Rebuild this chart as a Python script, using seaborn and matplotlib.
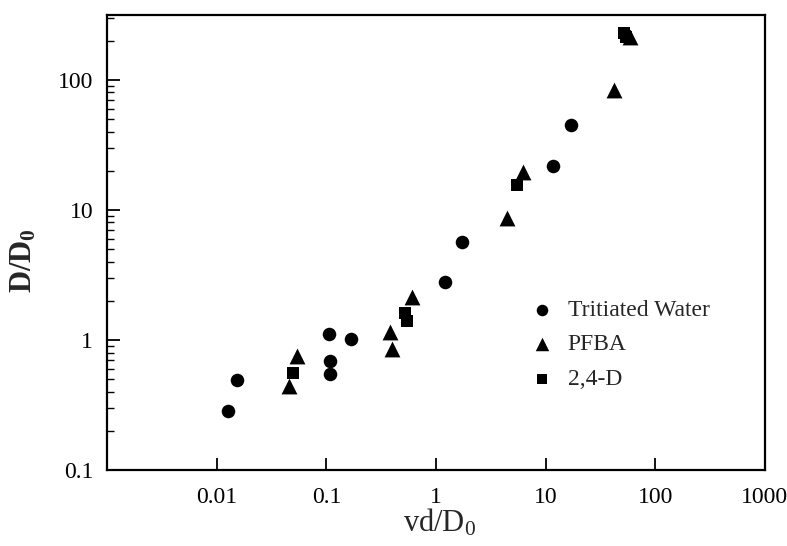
import matplotlib
matplotlib.use("Agg")
import matplotlib.pyplot as plt
import matplotlib.ticker as mticker
import seaborn as sns
import pandas as pd

# values (log-log)
water_x = [0.0128, 0.0152, 0.106, 0.108, 0.108, 0.168, 1.22, 1.73, 11.6, 17.1]
water_y = [0.286, 0.49, 1.11, 0.69, 0.55, 1.02, 2.78, 5.65, 21.9, 44.6]

pfba_x = [0.046, 0.054, 0.384, 0.394, 0.605, 4.42, 6.22, 41.8, 58.6]
pfba_y = [0.44, 0.75, 1.15, 0.86, 2.15, 8.6, 19.7, 82.8, 212]

d24_x = [0.0497, 0.52, 0.543, 5.48, 51.5, 53.5]
d24_y = [0.56, 1.62, 1.41, 15.4, 230, 214]

series = ["Tritiated Water", "PFBA", "2,4-D"]
x_ticks = [0.01, 0.1, 1, 10, 100, 1000]
x_ticklabels = ["0.01", "0.1", "1", "10", "100", "1000"]
y_ticks = [0.1, 1, 10, 100]
y_ticklabels = ["0.1", "1", "10", "100"]

df = pd.concat([
    pd.DataFrame({"x": water_x, "y": water_y, "series": series[0]}),
    pd.DataFrame({"x": pfba_x, "y": pfba_y, "series": series[1]}),
    pd.DataFrame({"x": d24_x, "y": d24_y, "series": series[2]}),
])

sns.set_style("white")
plt.rcParams["font.family"] = ["Liberation Serif", "DejaVu Serif"]
plt.rcParams["mathtext.fontset"] = "custom"
plt.rcParams["mathtext.rm"] = "Liberation Serif"
plt.rcParams["mathtext.it"] = "Liberation Serif:italic"
plt.rcParams["mathtext.bf"] = "Liberation Serif:bold"

fig = plt.figure(figsize=(7.87, 5.46), dpi=100)
ax = fig.add_axes([0.136, 0.139, 0.836, 0.834])

markers = {"Tritiated Water": "o", "PFBA": "^", "2,4-D": "s"}
sizes = {"Tritiated Water": 95, "PFBA": 130, "2,4-D": 85}
for name in series:
    sub = df[df["series"] == name]
    sns.scatterplot(data=sub, x="x", y="y", ax=ax, marker=markers[name],
                    s=sizes[name], color="black", edgecolor="black",
                    linewidth=0, label=name)

ax.set_xscale("log")
ax.set_yscale("log")
ax.set_xlim(0.001, 1000)
ax.set_ylim(0.1, 316)

ax.xaxis.set_major_locator(mticker.FixedLocator(x_ticks))
ax.xaxis.set_major_formatter(mticker.FixedFormatter(x_ticklabels))
ax.xaxis.set_minor_locator(mticker.NullLocator())
ax.yaxis.set_major_locator(mticker.FixedLocator(y_ticks))
ax.yaxis.set_major_formatter(mticker.FixedFormatter(y_ticklabels))
ax.yaxis.set_minor_locator(mticker.LogLocator(base=10, subs=range(2, 10)))
ax.yaxis.set_minor_formatter(mticker.NullFormatter())

ax.tick_params(axis="both", which="major", direction="in", length=9, width=1.3,
               labelsize=17, colors="black", bottom=True, left=True,
               top=False, right=False)
ax.tick_params(axis="x", which="major", pad=12)
ax.tick_params(axis="y", which="major", pad=10)
ax.tick_params(axis="y", which="minor", direction="in", length=5, width=1.0,
               left=True, right=False, colors="black")

for sp in ax.spines.values():
    sp.set_visible(True)
    sp.set_color("black")
    sp.set_linewidth(1.6)

ax.set_xlabel(r"vd/D$_0$", fontsize=22)
ax.xaxis.set_label_coords(0.505, -0.082)
ax.set_ylabel(r"$\mathbf{D/D_0}$", fontsize=22)
ax.yaxis.set_label_coords(-0.104, 0.46)

leg = ax.legend(loc="upper left", bbox_to_anchor=(0.607, 0.422), frameon=False,
                fontsize=17, handletextpad=0.5, labelspacing=0.55,
                markerscale=0.85, handlelength=1.2)

fig.savefig("out.png", dpi=100)
